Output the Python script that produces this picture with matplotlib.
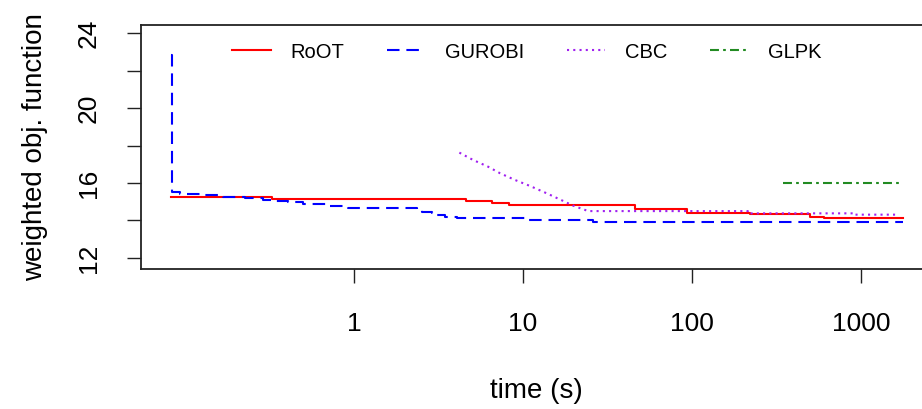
import matplotlib
matplotlib.use("Agg")
import matplotlib.pyplot as plt

plt.rcParams['font.family'] = ['Liberation Sans', 'DejaVu Sans']

# ---- data ----
root_t = [0.0826, 0.326, 4.60, 6.53, 8.30, 46.0, 93.0, 220, 499, 604, 1774]
root_v = [15.24, 15.15, 15.06, 14.95, 14.81, 14.61, 14.42, 14.33, 14.20, 14.12, 14.12]

gurobi_t = [0.0826, 0.0832, 0.0934, 0.128, 0.168, 0.226, 0.290, 0.332, 0.407, 0.499,
            0.604, 0.72, 0.92, 2.35, 2.52, 2.88, 3.09, 3.45, 4.05, 10.3, 25.9, 1774]
gurobi_v = [22.85, 15.50, 15.43, 15.34, 15.27, 15.18, 15.09, 15.06, 14.97, 14.90,
            14.86, 14.79, 14.68, 14.56, 14.44, 14.38, 14.31, 14.20, 14.12, 14.01, 13.90, 13.90]

cbc_t = [4.20, 5.06, 6.21, 7.31, 8.97, 11.0, 13.8, 17.3, 19.8, 24.3, 214, 214, 921, 921, 1656]
cbc_v = [17.62, 17.23, 16.87, 16.52, 16.16, 15.84, 15.45, 15.04, 14.79, 14.50, 14.50,
         14.38, 14.38, 14.31, 14.31]

glpk_t = [344, 1774]
glpk_v = [16.0, 16.0]

series_names = ["RoOT", "GUROBI", "CBC", "GLPK"]
x_ticks = [1, 10, 100, 1000]
x_ticklabels = ["1", "10", "100", "1000"]
y_ticks = [12, 14, 16, 18, 20, 22, 24]
y_ticklabels = ["12", "", "16", "", "20", "", "24"]

# ---- figure ----
W, H = 922, 409
fig = plt.figure(figsize=(W / 100, H / 100), dpi=100)
left, right, top, bottom = 141, 932, 25, 269
ax = fig.add_axes([left / W, 1 - bottom / H, (right - left) / W, (bottom - top) / H])

lw = 1.5
ax.plot(root_t, root_v, color="#FF0000", lw=lw, drawstyle="steps-post", label=series_names[0])
ax.plot(gurobi_t, gurobi_v, color="#0000FF", lw=lw, drawstyle="steps-post",
        linestyle=(0, (6, 3.3)), label=series_names[1])
ax.plot(cbc_t, cbc_v, color="#A020F0", lw=lw, linestyle=(0, (1, 2)), label=series_names[2])
ax.plot(glpk_t, glpk_v, color="#228B22", lw=lw, linestyle=(0, (4.3, 2, 1.3, 2)), label=series_names[3])

ax.set_xscale("log")
ax.set_xlim(0.0549, 2630)
ax.set_ylim(11.41, 24.43)
ax.set_xticks(x_ticks)
ax.set_xticklabels(x_ticklabels)
ax.xaxis.set_minor_locator(matplotlib.ticker.NullLocator())
ax.set_yticks(y_ticks)
ax.set_yticklabels(y_ticklabels)
for lab in ax.get_yticklabels():
    lab.set_rotation(90)
    lab.set_va("center")

ax.tick_params(axis="both", direction="out", length=10, width=1.0, labelsize=19,
               colors="#222222", labelcolor="black")
ax.tick_params(axis="x", pad=21)
ax.tick_params(axis="y", pad=19)
for sp in ax.spines.values():
    sp.set_linewidth(1.3)
    sp.set_color("#222222")

ax.set_xlabel("time (s)", fontsize=20, labelpad=30)
ax.set_ylabel("weighted obj. function", fontsize=20, labelpad=21)

leg = ax.legend(ncol=4, frameon=False, fontsize=14.5, handlelength=1.9,
                handletextpad=1.0, columnspacing=2.1, loc="center",
                bbox_to_anchor=((527 - left) / (right - left), (bottom - 52) / (bottom - top)))

fig.savefig("out.png", dpi=100)
